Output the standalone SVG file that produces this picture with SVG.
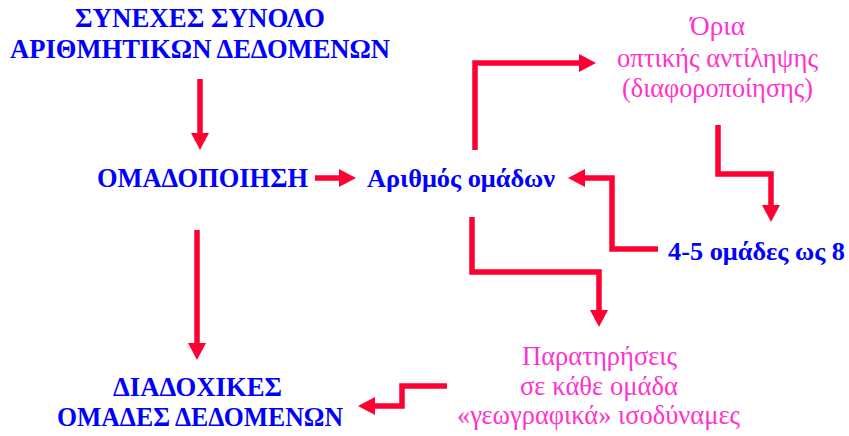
<svg xmlns="http://www.w3.org/2000/svg" width="849" height="436" viewBox="0 0 849 436">
<defs>
<style>
.b{font-family:"Liberation Serif","Times New Roman",serif;font-weight:bold;fill:#0000FF;}
.p{font-family:"Liberation Serif","Times New Roman",serif;fill:#FF33CC;font-size:28px;}
.c{fill:none;stroke:#FF0033;stroke-width:5.5;stroke-linejoin:miter;marker-end:url(#ah);}
</style>
<marker id="ah" markerUnits="userSpaceOnUse" markerWidth="18" markerHeight="18" viewBox="0 0 18 18" refX="0" refY="9" orient="auto">
<path d="M0,0 L17,9 L0,18 z" fill="#FF0033"/>
</marker>
</defs>
<rect width="849" height="436" fill="#FFFFFF"/>
<g id="connectors">
<path class="c" d="M200,79 V133"/>
<path class="c" d="M315,178 H339"/>
<path class="c" d="M475,150 V63 H579"/>
<path class="c" d="M718,125 V174 H771 V205"/>
<path class="c" d="M658,249 H612 V178 H585"/>
<path class="c" d="M472,217 V272 H599 V310"/>
<path class="c" d="M197,230 V343"/>
<path class="c" d="M447,386 H402 V406 H375"/>
</g>
<g id="node-synexes">
<text class="b" font-size="28" x="75" y="27" textLength="250" lengthAdjust="spacingAndGlyphs">ΣΥΝΕΧΕΣ ΣΥΝΟΛΟ</text>
<text class="b" font-size="28" x="10" y="58" textLength="380" lengthAdjust="spacingAndGlyphs">ΑΡΙΘΜΗΤΙΚΩΝ ΔΕΔΟΜΕΝΩΝ</text>
</g>
<g id="node-omadopoiisi">
<text class="b" font-size="28" x="97" y="187" textLength="211" lengthAdjust="spacingAndGlyphs">ΟΜΑΔΟΠΟΙΗΣΗ</text>
</g>
<g id="node-arithmos">
<text class="b" font-size="26" x="367" y="187" textLength="188" lengthAdjust="spacingAndGlyphs">Αριθμός ομάδων</text>
</g>
<g id="node-oria">
<text class="p" x="690" y="35" textLength="55" lengthAdjust="spacingAndGlyphs">Όρια</text>
<text class="p" x="617" y="67" textLength="201" lengthAdjust="spacingAndGlyphs">οπτικής αντίληψης</text>
<text class="p" x="622" y="97" textLength="191" lengthAdjust="spacingAndGlyphs">(διαφοροποίησης)</text>
</g>
<g id="node-45">
<text class="b" font-size="26" x="668" y="260" textLength="177" lengthAdjust="spacingAndGlyphs">4-5 ομάδες ως 8</text>
</g>
<g id="node-paratiriseis">
<text class="p" x="522" y="365" textLength="155" lengthAdjust="spacingAndGlyphs">Παρατηρήσεις</text>
<text class="p" x="520" y="395" textLength="158" lengthAdjust="spacingAndGlyphs">σε κάθε ομάδα</text>
<text class="p" x="457" y="424" textLength="283" lengthAdjust="spacingAndGlyphs">«γεωγραφικά» ισοδύναμες</text>
</g>
<g id="node-diadoxikes">
<text class="b" font-size="28" x="113" y="396" textLength="169" lengthAdjust="spacingAndGlyphs">ΔΙΑΔΟΧΙΚΕΣ</text>
<text class="b" font-size="28" x="57" y="426" textLength="286" lengthAdjust="spacingAndGlyphs">ΟΜΑΔΕΣ ΔΕΔΟΜΕΝΩΝ</text>
</g>
</svg>
